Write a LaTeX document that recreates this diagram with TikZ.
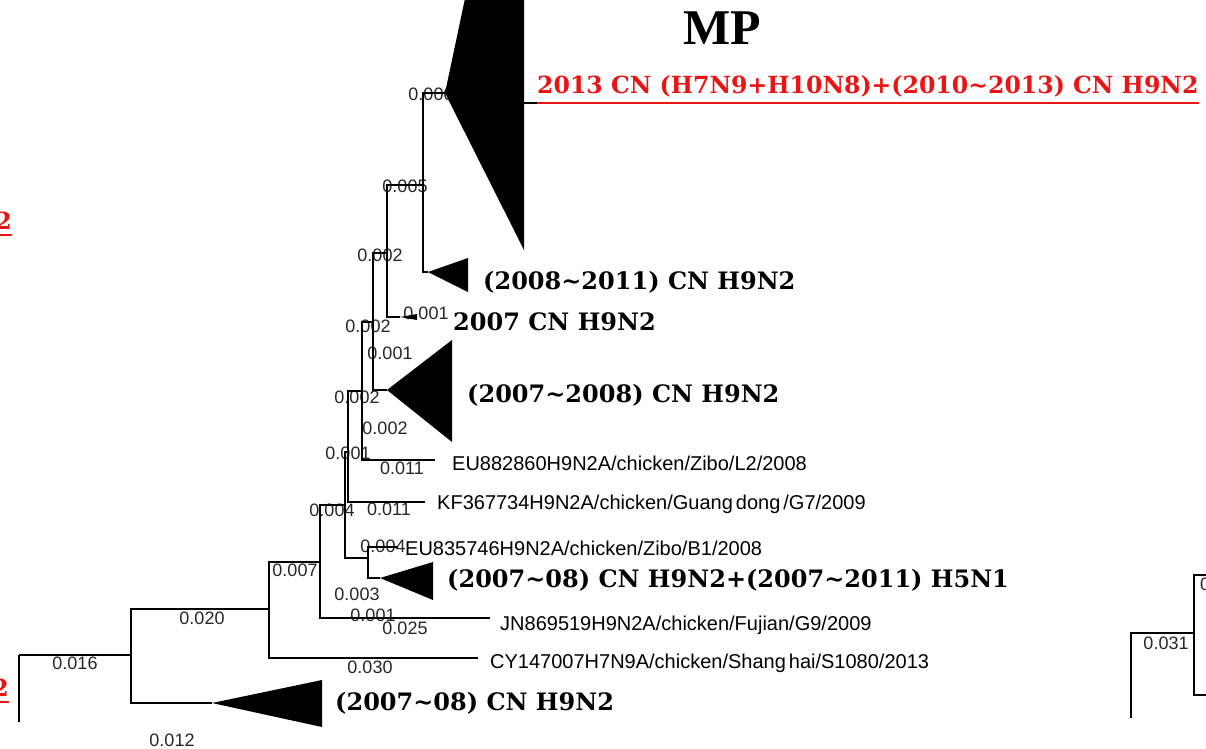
\documentclass[tikz,border=0pt]{standalone}
\usepackage{fontspec}
\setmainfont{Liberation Sans}
\newfontfamily\cladefont{DejaVu Serif}
\newfontfamily\titlefont{Liberation Serif}
\definecolor{tagred}{RGB}{235,20,20}
\begin{document}
\begin{tikzpicture}[x=1pt,y=-1pt,
  branch/.style={line width=1.6pt, black},
  blen/.style={inner sep=0pt, text=black!85, font=\fontsize{18}{18}\selectfont},
  leaf/.style={anchor=base west, inner sep=0pt, font=\fontsize{20}{20}\selectfont},
  clade/.style={anchor=base west, inner sep=0pt, font=\cladefont\bfseries\fontsize{24}{24}\selectfont},
  redtag/.style={clade, text=tagred, font=\cladefont\bfseries\fontsize{23.6}{24}\selectfont},
  collapsed/.style={fill=black}]
\useasboundingbox (0,0) rectangle (1206,748);
\clip (0,0) rectangle (1206,748);

% internal nodes of the tree
\coordinate (r) at (19,655);
\coordinate (rdown) at (19,722);
\coordinate (a) at (131,655);
\coordinate (b) at (269,609);
\coordinate (c) at (320,562);
\coordinate (d) at (345,505);
\coordinate (e) at (348,452);
\coordinate (f) at (362,391);
\coordinate (g) at (373,322);
\coordinate (h) at (387,253);
\coordinate (i) at (423,185);
\coordinate (k) at (368,558);

% tips: leaf ends and apexes of collapsed clades
\coordinate (tbig) at (445,93);
\coordinate (t0811) at (428,272);
\coordinate (t2007) at (400,317);
\coordinate (t0708) at (387,390);
\coordinate (lEUa) at (435,460);
\coordinate (lKF) at (425,502);
\coordinate (lEUb) at (398,547);
\coordinate (tH5) at (380,578);
\coordinate (lJN) at (490,618);
\coordinate (lCY) at (478,658);
\coordinate (tlow) at (212,703);

% branch length labels (drawn first so the big clade covers one)
\node[blen] (bl0) at (431,94) {0.000};
\node[blen] (bl1) at (405,186) {0.005};
\node[blen] (bl2) at (380,255) {0.002};
\node[blen] (bl3) at (426,313) {0.001};
\node[blen] (bl4) at (368,326) {0.002};
\node[blen] (bl5) at (390,353) {0.001};
\node[blen] (bl6) at (357,397) {0.002};
\node[blen] (bl7) at (385,428) {0.002};
\node[blen] (bl8) at (348,453) {0.001};
\node[blen] (bl9) at (402,468) {0.011};
\node[blen] (bl10) at (332,510) {0.004};
\node[blen] (bl11) at (389,509) {0.011};
\node[blen] (bl12) at (383,546) {0.004};
\node[blen] (bl13) at (295,570) {0.007};
\node[blen] (bl14) at (357,594) {0.003};
\node[blen] (bl15) at (373,615) {0.001};
\node[blen] (bl16) at (405,628) {0.025};
\node[blen] (bl17) at (202,618) {0.020};
\node[blen] (bl18) at (370,667) {0.030};
\node[blen] (bl19) at (75,663) {0.016};
\node[blen] (bl20) at (172,740) {0.012};
\node[blen] (bl21) at (1166,643) {0.031};
\node[blen, anchor=west] (bl22) at (1200,584) {0};

% branches
\draw[branch] (r) -- (rdown);
\foreach \p/\q in {r/a, a/b, a/tlow, b/c, b/lCY, c/d, c/lJN, d/e, d/k,
                   e/f, e/lKF, f/g, f/lEUa, g/h, g/t0708, h/i, h/t2007,
                   i/tbig, i/t0811, k/lEUb, k/tH5}
  \draw[branch] (\p) |- (\q);

% collapsed clades
\fill[collapsed] (tbig) -- (524,-280) -- (524,250) -- cycle;
\fill[collapsed] (t0811) -- (468,258) -- (468,292) -- cycle;
\fill[collapsed] (t2007) -- (417,314) -- (417,320) -- cycle;
\fill[collapsed] (t0708) -- (452,340) -- (452,442) -- cycle;
\fill[collapsed] (tH5) -- (433,562) -- (433,600) -- cycle;
\fill[collapsed] (tlow) -- (322,680) -- (322,727) -- cycle;

% title
\node[anchor=base, inner sep=0pt, font=\titlefont\bfseries\fontsize{50}{50}\selectfont] (title) at (722,44) {MP};

% highlighted clade with its underline
\coordinate (bigR) at (524,103);
\node[redtag] (red) at (537,93) {2013 CN (H7N9+H10N8)+(2010\textasciitilde2013) CN H9N2};
\draw[branch] (bigR) -- ([yshift=-10pt]red.base west);
\draw[line width=1.6pt, tagred] ([yshift=-10pt]red.base west) -- ([yshift=-10pt]red.base east);

% clade names
\node[clade] (c0811) at (483,289) {(2008\textasciitilde2011) CN H9N2};
\node[clade] (c2007) at (453,330) {2007 CN H9N2};
\node[clade] (c0708) at (467,402) {(2007\textasciitilde2008) CN H9N2};
\node[clade] (cH5) at (447,587) {(2007\textasciitilde08) CN H9N2+(2007\textasciitilde2011) H5N1};
\node[clade] (clow) at (335,710) {(2007\textasciitilde08) CN H9N2};

% strain names
\node[leaf] (nEUa) at (452,470) {EU882860H9N2A/chicken/Zibo/L2/2008};
\node[leaf] (nKF) at (437,509) {KF367734H9N2A/chicken/Guang\hspace{3pt}dong\hspace{3pt}/G7/2009};
\node[leaf] (nEUb) at (405,555) {EU835746H9N2A/chicken/Zibo/B1/2008};
\node[leaf] (nJN) at (500,630) {JN869519H9N2A/chicken/Fujian/G9/2009};
\node[leaf] (nCY) at (490,668) {CY147007H7N9A/chicken/Shang\hspace{3pt}hai/S1080/2013};

% neighbouring panels at the edges
\node[redtag, anchor=base east] (edgeA) at (12,229) {H9N2};
\draw[line width=1.6pt, tagred] ([yshift=-6pt]edgeA.base west) -- ([yshift=-6pt]edgeA.base east);
\node[redtag, anchor=base east] (edgeB) at (9,696) {H9N2};
\draw[line width=1.6pt, tagred] ([yshift=-6pt]edgeB.base west) -- ([yshift=-6pt]edgeB.base east);

\coordinate (p) at (1131,718);
\coordinate (q) at (1194,633);
\coordinate (q1) at (1212,575);
\coordinate (q2) at (1212,695);
\draw[branch] (p) |- (q);
\draw[branch] (q) |- (q1);
\draw[branch] (q) |- (q2);
\end{tikzpicture}
\end{document}
